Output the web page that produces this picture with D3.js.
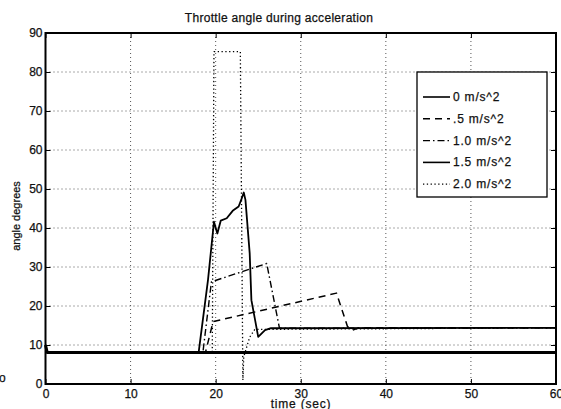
<!DOCTYPE html>
<html>
<head>
<meta charset="utf-8">
<script src="https://d3js.org/d3.v7.min.js"></script>
<style>
body { margin:0; background:#fff; }
text { font-family: "Liberation Sans", Arial, sans-serif; fill:#111; stroke:#111; stroke-width:0.25; }
</style>
</head>
<body>
<svg id="chart"></svg>
<script>
//series names for the legend
var seriesNames = ["0 m/s^2", ".5 m/s^2", "1.0 m/s^2", "1.5 m/s^2", "2.0 m/s^2"];

//time (sec) and angle (degrees) for each acceleration
var acc0Time = [0, 0.2, 60];
var acc0Angle = [10, 8.1, 8.1];

var acc05Time = [0, 18.8, 19.7, 34.2, 35.5, 36.1, 36.8, 60];
var acc05Angle = [8.1, 8.1, 16, 23.3, 14.7, 13.8, 14.4, 14.4];

var acc10Time = [0, 18.5, 19.5, 26.0, 27.5, 60];
var acc10Angle = [8.1, 8.1, 26.2, 30.9, 14.3, 14.4];

var acc15Time = [0, 18.0, 19.1, 19.8, 20.2, 20.6, 21.3, 22.0, 22.7, 23.0, 23.3, 23.5, 24.0, 24.2, 25.0, 25.8, 26.5, 60];
var acc15Angle = [8.1, 8.1, 26.7, 41.6, 38.6, 41.9, 42.5, 44.4, 45.5, 47.2, 49.1, 47.2, 33.5, 21.5, 12.1, 13.8, 14.3, 14.4];

var acc20Time = [0, 19.6, 19.8, 22.9, 23.2, 23.3, 24.0, 24.6, 60];
var acc20Angle = [8.1, 8.1, 85.2, 85.2, 1, 7, 12, 14, 14.4];

//tick values
var xTicks = [0, 10, 20, 30, 40, 50, 60];
var yTicks = [0, 10, 20, 30, 40, 50, 60, 70, 80, 90];

//pair up time and angle
var makePoints = function(times, angles)
{
    return times.map(function(t, i) { return {t:t, v:angles[i]}; });
}

var series = [
    {name:seriesNames[0], points:makePoints(acc0Time, acc0Angle), width:3, dash:null},
    {name:seriesNames[1], points:makePoints(acc05Time, acc05Angle), width:1.5, dash:"7,5"},
    {name:seriesNames[2], points:makePoints(acc10Time, acc10Angle), width:1.4, dash:"7,3,1.5,3"},
    {name:seriesNames[3], points:makePoints(acc15Time, acc15Angle), width:1.8, dash:null},
    {name:seriesNames[4], points:makePoints(acc20Time, acc20Angle), width:1.3, dash:"1.3,2.5"}
];

var initGraph = function(target)
{
    var screen = {width:561, height:409};
    var margins = {top:33, left:45.5, right:5, bottom:25};
    var graph = {
        width:screen.width-margins.left-margins.right,
        height:screen.height-margins.top-margins.bottom
    };

    var svg = d3.select(target)
        .attr("width", screen.width)
        .attr("height", screen.height);

    var xScale = d3.scaleLinear().domain([0,60]).range([0,graph.width]);
    var yScale = d3.scaleLinear().domain([0,90]).range([graph.height,0]);

    var g = svg.append("g")
        .attr("transform","translate("+margins.left+","+margins.top+")");

    //dotted grid
    g.append("g").selectAll("line")
        .data(xTicks.slice(1,-1))
        .enter().append("line")
        .attr("x1",function(d){return xScale(d);})
        .attr("x2",function(d){return xScale(d);})
        .attr("y1",0).attr("y2",graph.height)
        .attr("stroke","#555").attr("stroke-width",1)
        .attr("stroke-dasharray","1,3");
    g.append("g").selectAll("line")
        .data(yTicks.slice(1,-1))
        .enter().append("line")
        .attr("y1",function(d){return yScale(d);})
        .attr("y2",function(d){return yScale(d);})
        .attr("x1",0).attr("x2",graph.width)
        .attr("stroke","#555").attr("stroke-width",1)
        .attr("stroke-dasharray","1,3");

    //axes with inward ticks
    var xAxis = d3.axisBottom(xScale).tickValues(xTicks).tickSize(-5).tickPadding(5.5);
    var yAxis = d3.axisLeft(yScale).tickValues(yTicks).tickSize(-5).tickPadding(3);

    g.append("g")
        .attr("transform","translate(0,"+graph.height+")")
        .call(xAxis);
    g.append("g").call(yAxis);
    g.append("g").call(d3.axisTop(xScale).tickValues(xTicks).tickSize(-5).tickFormat(""));
    g.append("g").attr("transform","translate("+graph.width+",0)")
        .call(d3.axisRight(yScale).tickValues(yTicks).tickSize(-5).tickFormat(""));

    g.selectAll(".domain").remove();
    g.selectAll(".tick line").attr("stroke","#000").attr("stroke-width",1);
    g.selectAll(".tick text").attr("font-size",12).attr("fill","#111")
        .style("font-family","'Liberation Sans', Arial, sans-serif");

    //data lines
    var line = d3.line()
        .x(function(d){return xScale(d.t);})
        .y(function(d){return yScale(d.v);});

    g.selectAll(".series")
        .data(series)
        .enter().append("path")
        .attr("d",function(s){return line(s.points);})
        .attr("fill","none")
        .attr("stroke","#000")
        .attr("stroke-width",function(s){return s.width;})
        .attr("stroke-dasharray",function(s){return s.dash;})
        .attr("stroke-linejoin","round");

    //frame
    g.append("rect")
        .attr("x",0).attr("y",0)
        .attr("width",graph.width).attr("height",graph.height)
        .attr("fill","none").attr("stroke","#000").attr("stroke-width",2);

    //legend
    var legend = g.append("g").attr("transform","translate("+(417-margins.left)+","+(72-margins.top)+")");
    legend.append("rect")
        .attr("width",130).attr("height",125)
        .attr("fill","#fff").attr("stroke","#000").attr("stroke-width",1.3);
    var rows = legend.selectAll(".row")
        .data(series)
        .enter().append("g")
        .attr("transform",function(s,i){return "translate(0,"+(25+i*21.8)+")";});
    rows.append("line")
        .attr("x1",6).attr("x2",33).attr("y1",0).attr("y2",0)
        .attr("stroke","#000")
        .attr("stroke-width",function(s){return Math.min(s.width,1.6);})
        .attr("stroke-dasharray",function(s){return s.dash;});
    rows.append("text")
        .attr("x",36).attr("y",4)
        .attr("font-size",12)
        .attr("letter-spacing",0.8)
        .text(function(s){return s.name;});

    //title and axis labels
    svg.append("text")
        .attr("x",279).attr("y",22)
        .attr("text-anchor","middle")
        .attr("font-size",12)
        .attr("letter-spacing",0.3)
        .text("Throttle angle during acceleration");
    svg.append("text")
        .attr("x",301).attr("y",408)
        .attr("text-anchor","middle")
        .attr("font-size",12)
        .attr("letter-spacing",0.8)
        .text("time (sec)");
    svg.append("text")
        .attr("transform","translate(20,216) rotate(-90)")
        .attr("text-anchor","middle")
        .attr("font-size",11)
        .text("angle  degrees");
    svg.append("text")
        .attr("x",-1).attr("y",382)
        .attr("font-size",12)
        .text("o");
}

initGraph("#chart");
</script>
</body>
</html>
